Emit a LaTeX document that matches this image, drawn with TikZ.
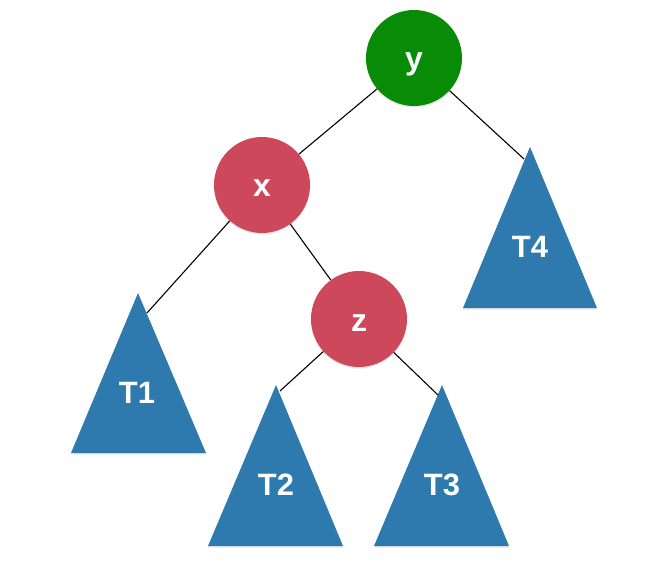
\documentclass[tikz,border=0pt]{standalone}
\usepackage{fontspec}
\setmainfont{Liberation Sans}
\usetikzlibrary{shadows}
\definecolor{ngreen}{RGB}{8,140,8}
\definecolor{nred}{RGB}{204,72,90}
\definecolor{tblue}{RGB}{46,122,174}
\tikzset{
  vertex/.style={circle,minimum size=96bp,inner sep=0pt,text=white,
    font=\bfseries\fontsize{32}{32}\selectfont,text height=24bp,text depth=0pt,
    drop shadow={opacity=0.18,shadow xshift=0bp,shadow yshift=-1.5bp}},
  greenv/.style={vertex,fill=ngreen},
  redv/.style={vertex,fill=nred},
  subtree/.style={fill=tblue,drop shadow={opacity=0.18,shadow xshift=0bp,shadow yshift=-1.5bp}},
  tlabel/.style={text=white,font=\bfseries\fontsize{31}{31}\selectfont,inner sep=0pt},
  edge/.style={draw=black,line width=1.1bp}
}
\begin{document}
\begin{tikzpicture}[x=1bp,y=-1bp]
\useasboundingbox (0,0) rectangle (659,575);
% subtrees
\fill[subtree] (530,147) -- (463,308) -- (597,308) -- cycle;
\fill[subtree] (138,293) -- (71,453) -- (206,453) -- cycle;
\fill[subtree] (276,385) -- (208,546) -- (343,546) -- cycle;
\fill[subtree] (442,385) -- (374,546) -- (509,546) -- cycle;
\node[tlabel] (T4) at (530,247) {T4};
\node[tlabel] (T1) at (137,393) {T1};
\node[tlabel] (T2) at (276,485) {T2};
\node[tlabel] (T3) at (442,485) {T3};
% connector end points on subtrees
\coordinate (e4) at (524,159);
\coordinate (e1) at (147,313);
\coordinate (e2) at (280,391);
\coordinate (e3) at (438,395);
% vertices
\node[greenv] (y) at (414,58) {y};
\node[redv] (x) at (262,185) {x};
\node[redv] (z) at (359,319) {z};
% connectors
\draw[edge] (y) -- (x);
\draw[edge] (y) -- (e4);
\draw[edge] (x) -- (e1);
\draw[edge] (x) -- (z);
\draw[edge] (z) -- (e2);
\draw[edge] (z) -- (e3);
\end{tikzpicture}
\end{document}
